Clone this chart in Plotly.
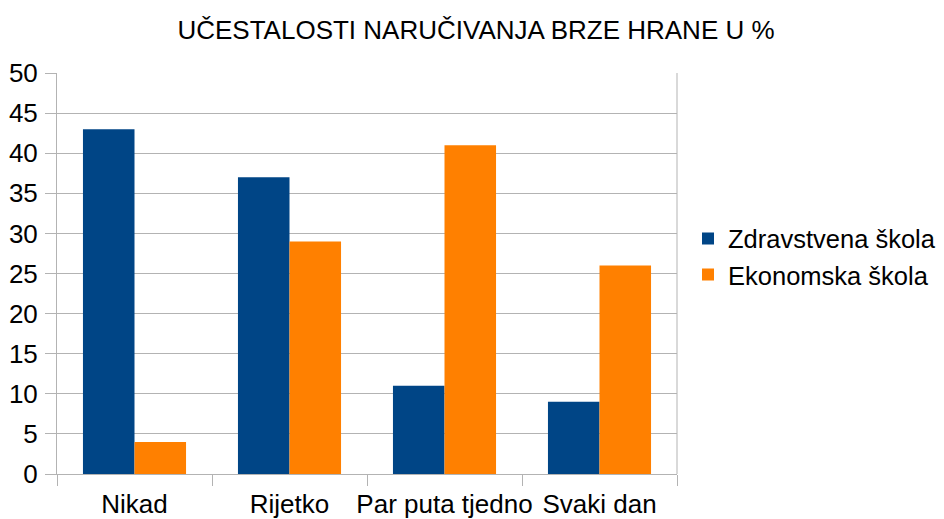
import plotly.graph_objects as go

categories = ["Nikad", "Rijetko", "Par puta tjedno", "Svaki dan"]
zdravstvena = [43, 37, 11, 9]
ekonomska = [4, 29, 41, 26]
series_names = ["Zdravstvena škola", "Ekonomska škola"]
y_ticks = [0, 5, 10, 15, 20, 25, 30, 35, 40, 45, 50]

grid = "#b3b3b3"
font = "Liberation Sans, Arial, sans-serif"

fig = go.Figure()
fig.add_trace(go.Bar(x=categories, y=zdravstvena, name=series_names[0],
                     marker=dict(color="#004586", line=dict(width=0))))
fig.add_trace(go.Bar(x=categories, y=ekonomska, name=series_names[1],
                     marker=dict(color="#ff8000", line=dict(width=0))))

# page body has an 8px margin, so the figure is 8px smaller each way
fig.update_layout(
    width=936, height=511,
    margin=dict(l=49, r=267, t=65, b=45),
    paper_bgcolor="white", plot_bgcolor="white",
    font=dict(family=font, color="black", size=26),
    title=dict(text="UČESTALOSTI NARUČIVANJA BRZE HRANE U %",
               x=0.5, xanchor="center", y=0.957, yanchor="middle",
               font=dict(size=26)),
    barmode="group", bargap=0.335, bargroupgap=0,
    legend=dict(xref="container", yref="container",
                x=0.7265, y=0.513, xanchor="left", yanchor="middle",
                font=dict(size=25.5), tracegroupgap=0, itemwidth=30),
    xaxis=dict(showline=True, linecolor=grid, linewidth=1,
               ticks="outside", tickson="boundaries", ticklen=11,
               tickcolor=grid, tickfont=dict(size=26), showgrid=False,
               tickangle=0, automargin=False, ticklabelstandoff=7),
    yaxis=dict(range=[0, 50], tickvals=y_ticks, showline=True,
               linecolor=grid, linewidth=1, ticks="outside", ticklen=11,
               tickcolor=grid, gridcolor=grid, gridwidth=1,
               tickfont=dict(size=26), zeroline=False, automargin=False,
               ticklabelstandoff=2),
)
# right border of the plot area
fig.update_layout(shapes=[dict(type="line", xref="paper", yref="paper",
                               x0=1, x1=1, y0=0, y1=1,
                               line=dict(color=grid, width=1))])

fig.write_html("out.html")
